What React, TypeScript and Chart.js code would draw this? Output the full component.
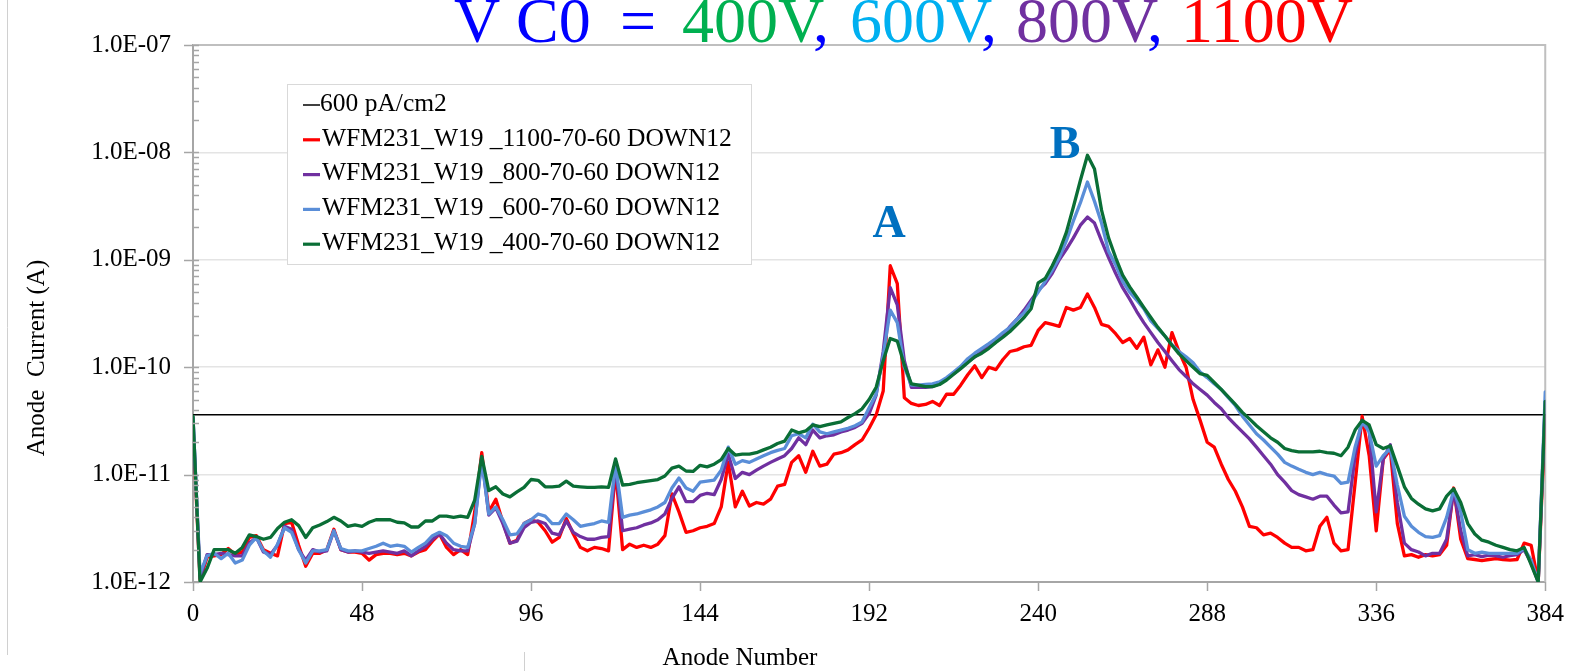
import { useEffect, useRef } from "react";
import { Chart, registerables } from "chart.js";

Chart.register(...registerables);

const SERIF = "'Liberation Serif', 'Times New Roman', serif";

// Anode numbers sampled every second anode, 0..384
const ANODES: number[] = Array.from({ length: 193 }, (_, i) => i * 2);
const X_TICKS = [0, 48, 96, 144, 192, 240, 288, 336, 384];
const Y_TICK_LABELS = ["1.0E-12", "1.0E-11", "1.0E-10", "1.0E-09", "1.0E-08", "1.0E-07"];
const Y_MIN = 1e-12;
const Y_MAX = 1e-7;

// 600 pA/cm2 reference level (A)
const REFERENCE_LEVEL = 3.6e-11;

// Anode current (A), one value per sampled anode
const CURRENT_1100V = [
  2.8e-11, 1.05e-12, 1.7e-12, 1.75e-12, 1.8e-12, 2.05e-12, 1.8e-12, 1.9e-12, 2.6e-12, 2.7e-12,
  2.0e-12, 1.85e-12, 1.75e-12, 3.5e-12, 3.6e-12, 2.2e-12, 1.4e-12, 1.85e-12, 1.85e-12, 2.0e-12,
  3.1e-12, 2.0e-12, 1.9e-12, 1.9e-12, 1.85e-12, 1.6e-12, 1.8e-12, 1.85e-12, 1.85e-12, 1.8e-12,
  1.85e-12, 1.75e-12, 1.9e-12, 2.0e-12, 2.4e-12, 2.8e-12, 2.1e-12, 1.8e-12, 2.0e-12, 1.8e-12,
  4.5e-12, 1.6e-11, 4.5e-12, 5.9e-12, 3.6e-12, 2.3e-12, 2.45e-12, 3.5e-12, 3.8e-12, 3.6e-12,
  3.0e-12, 2.35e-12, 2.6e-12, 3.9e-12, 2.8e-12, 2.1e-12, 1.95e-12, 2.1e-12, 2.05e-12, 1.95e-12,
  1.1e-11, 2.0e-12, 2.25e-12, 2.1e-12, 2.2e-12, 2.1e-12, 2.25e-12, 2.7e-12, 6.6e-12, 4.5e-12,
  2.9e-12, 3.0e-12, 3.2e-12, 3.3e-12, 3.5e-12, 5.0e-12, 1.3e-11, 5.0e-12, 7.0e-12, 5.1e-12,
  5.5e-12, 5.3e-12, 5.9e-12, 7.8e-12, 8.1e-12, 1.3e-11, 1.5e-11, 1.05e-11, 1.65e-11, 1.2e-11,
  1.25e-11, 1.55e-11, 1.6e-11, 1.7e-11, 1.9e-11, 2.1e-11, 2.7e-11, 3.6e-11, 6.0e-11, 8.8e-10,
  6.0e-10, 5.2e-11, 4.6e-11, 4.4e-11, 4.5e-11, 4.8e-11, 4.4e-11, 5.6e-11, 5.6e-11, 6.8e-11,
  8.5e-11, 1.03e-10, 8.0e-11, 1.0e-10, 9.5e-11, 1.18e-10, 1.4e-10, 1.45e-10, 1.55e-10, 1.6e-10,
  2.2e-10, 2.6e-10, 2.5e-10, 2.4e-10, 3.6e-10, 3.4e-10, 3.6e-10, 4.8e-10, 3.6e-10, 2.5e-10,
  2.4e-10, 2.05e-10, 1.7e-10, 1.85e-10, 1.5e-10, 1.9e-10, 1.05e-10, 1.45e-10, 1.0e-10, 2.1e-10,
  1.4e-10, 1.0e-10, 5.0e-11, 3.2e-11, 2.0e-11, 1.8e-11, 1.25e-11, 9.0e-12, 7.0e-12, 5.0e-12,
  3.3e-12, 3.2e-12, 2.75e-12, 2.85e-12, 2.6e-12, 2.3e-12, 2.1e-12, 2.1e-12, 1.95e-12, 2.0e-12,
  3.3e-12, 4.0e-12, 2.3e-12, 1.95e-12, 2.0e-12, 8.3e-12, 3.5e-11, 1.5e-11, 3.0e-12, 1.4e-11,
  1.7e-11, 3.5e-12, 1.75e-12, 1.8e-12, 1.7e-12, 1.8e-12, 1.75e-12, 1.8e-12, 2.2e-12, 7.5e-12,
  2.5e-12, 1.65e-12, 1.62e-12, 1.58e-12, 1.62e-12, 1.65e-12, 1.62e-12, 1.6e-12, 1.62e-12, 2.3e-12,
  2.2e-12, 1.0e-12, 3.5e-11,
];

const CURRENT_800V = [
  3.4e-11, 1.1e-12, 1.8e-12, 1.8e-12, 1.85e-12, 1.8e-12, 1.75e-12, 1.75e-12, 2.3e-12, 2.6e-12,
  1.9e-12, 1.8e-12, 2.2e-12, 3.3e-12, 3.1e-12, 2.0e-12, 1.6e-12, 2.0e-12, 1.9e-12, 1.95e-12,
  3.0e-12, 2.0e-12, 1.9e-12, 1.95e-12, 1.9e-12, 1.85e-12, 1.9e-12, 1.95e-12, 1.9e-12, 1.85e-12,
  1.95e-12, 1.75e-12, 1.95e-12, 2.15e-12, 2.5e-12, 2.8e-12, 2.3e-12, 2.0e-12, 1.95e-12, 1.95e-12,
  3.5e-12, 1.45e-11, 4.2e-12, 4.9e-12, 3.5e-12, 2.3e-12, 2.4e-12, 3.2e-12, 3.6e-12, 3.7e-12,
  3.5e-12, 2.85e-12, 2.75e-12, 3.7e-12, 2.9e-12, 2.65e-12, 2.5e-12, 2.5e-12, 2.6e-12, 2.65e-12,
  1.2e-11, 3.0e-12, 3.1e-12, 3.2e-12, 3.4e-12, 3.55e-12, 3.8e-12, 4.3e-12, 6.0e-12, 7.7e-12,
  5.6e-12, 5.6e-12, 6.4e-12, 6.7e-12, 6.5e-12, 9.0e-12, 1.55e-11, 9.2e-12, 1.05e-11, 1.0e-11,
  1.1e-11, 1.2e-11, 1.3e-11, 1.4e-11, 1.5e-11, 1.75e-11, 2.2e-11, 1.9e-11, 2.6e-11, 2.2e-11,
  2.3e-11, 2.35e-11, 2.5e-11, 2.6e-11, 2.75e-11, 3.0e-11, 3.7e-11, 5.5e-11, 1.4e-10, 5.5e-10,
  3.8e-10, 1.15e-10, 6.5e-11, 6.5e-11, 6.5e-11, 6.6e-11, 7.0e-11, 7.8e-11, 8.7e-11, 9.8e-11,
  1.12e-10, 1.25e-10, 1.4e-10, 1.55e-10, 1.72e-10, 1.95e-10, 2.4e-10, 2.8e-10, 3.4e-10, 4.2e-10,
  5.2e-10, 6.0e-10, 7.5e-10, 1.0e-9, 1.25e-9, 1.6e-9, 2.1e-9, 2.5e-9, 2.2e-9, 1.5e-9,
  1.05e-9, 7.5e-10, 5.5e-10, 4.3e-10, 3.3e-10, 2.6e-10, 2.1e-10, 1.7e-10, 1.4e-10, 1.15e-10,
  9.5e-11, 8.2e-11, 7.0e-11, 6.2e-11, 5.5e-11, 4.7e-11, 4.1e-11, 3.4e-11, 2.9e-11, 2.5e-11,
  2.15e-11, 1.8e-11, 1.5e-11, 1.25e-11, 1.0e-11, 8.5e-12, 7.1e-12, 6.5e-12, 6.2e-12, 5.9e-12,
  6.3e-12, 6.3e-12, 5.2e-12, 4.4e-12, 4.5e-12, 1.5e-11, 3.2e-11, 2.6e-11, 4.5e-12, 1.4e-11,
  1.9e-11, 5.5e-12, 2.3e-12, 2.0e-12, 1.9e-12, 1.75e-12, 1.85e-12, 1.85e-12, 2.5e-12, 7.2e-12,
  3.0e-12, 1.75e-12, 1.8e-12, 1.72e-12, 1.78e-12, 1.75e-12, 1.7e-12, 1.76e-12, 1.8e-12, 2.0e-12,
  1.5e-12, 1.0e-12, 4.8e-11,
];

const CURRENT_600V = [
  3.4e-11, 1.2e-12, 1.75e-12, 1.85e-12, 1.65e-12, 1.85e-12, 1.5e-12, 1.6e-12, 2.2e-12, 2.6e-12,
  1.95e-12, 1.7e-12, 2.25e-12, 3.2e-12, 2.9e-12, 2.0e-12, 1.5e-12, 1.95e-12, 1.95e-12, 2.0e-12,
  3.0e-12, 2.05e-12, 1.95e-12, 1.95e-12, 1.95e-12, 2.05e-12, 2.15e-12, 2.3e-12, 2.15e-12, 2.2e-12,
  2.15e-12, 1.9e-12, 2.1e-12, 2.3e-12, 2.7e-12, 2.9e-12, 2.7e-12, 2.3e-12, 2.15e-12, 2.1e-12,
  3.5e-12, 1.35e-11, 4.3e-12, 5.0e-12, 3.8e-12, 2.75e-12, 2.8e-12, 3.5e-12, 3.8e-12, 4.3e-12,
  4.1e-12, 3.5e-12, 3.5e-12, 4.3e-12, 3.8e-12, 3.3e-12, 3.4e-12, 3.5e-12, 3.7e-12, 3.6e-12,
  1.25e-11, 4.0e-12, 4.2e-12, 4.3e-12, 4.5e-12, 4.7e-12, 5.0e-12, 5.5e-12, 7.5e-12, 9.3e-12,
  7.5e-12, 7.0e-12, 8.5e-12, 8.7e-12, 8.9e-12, 1.1e-11, 1.8e-11, 1.25e-11, 1.35e-11, 1.3e-11,
  1.4e-11, 1.5e-11, 1.6e-11, 1.68e-11, 1.75e-11, 2.3e-11, 2.4e-11, 2.2e-11, 2.95e-11, 2.5e-11,
  2.4e-11, 2.5e-11, 2.6e-11, 2.7e-11, 2.85e-11, 3.1e-11, 4.2e-11, 5.6e-11, 1.3e-10, 3.4e-10,
  2.6e-10, 1.0e-10, 6.8e-11, 6.8e-11, 6.9e-11, 7.0e-11, 7.3e-11, 8.0e-11, 9.0e-11, 1.02e-10,
  1.2e-10, 1.35e-10, 1.5e-10, 1.66e-10, 1.85e-10, 2.1e-10, 2.35e-10, 2.8e-10, 3.2e-10, 4.0e-10,
  5.0e-10, 6.3e-10, 8.0e-10, 1.05e-9, 1.5e-9, 2.3e-9, 3.4e-9, 5.3e-9, 3.5e-9, 2.2e-9,
  1.2e-9, 9.0e-10, 6.3e-10, 5.0e-10, 4.2e-10, 3.5e-10, 2.7e-10, 2.3e-10, 1.95e-10, 1.62e-10,
  1.4e-10, 1.25e-10, 1.1e-10, 9.0e-11, 8.0e-11, 7.0e-11, 6.2e-11, 5.2e-11, 4.4e-11, 3.5e-11,
  2.9e-11, 2.4e-11, 2.1e-11, 1.8e-11, 1.55e-11, 1.3e-11, 1.2e-11, 1.12e-11, 1.05e-11, 1.0e-11,
  1.05e-11, 1.0e-11, 9.7e-12, 8.3e-12, 8.5e-12, 1.8e-11, 3.1e-11, 2.5e-11, 1.2e-11, 1.5e-11,
  1.75e-11, 8.0e-12, 4.1e-12, 3.3e-12, 2.9e-12, 2.65e-12, 2.6e-12, 2.7e-12, 4.0e-12, 7.2e-12,
  4.5e-12, 2.0e-12, 1.85e-12, 1.9e-12, 1.85e-12, 1.85e-12, 1.85e-12, 1.85e-12, 1.85e-12, 2.05e-12,
  1.6e-12, 1.0e-12, 5.9e-11,
];

const CURRENT_400V = [
  3.5e-11, 1.0e-12, 1.34e-12, 2.0e-12, 2.0e-12, 2.0e-12, 1.85e-12, 2.1e-12, 2.75e-12, 2.65e-12,
  2.5e-12, 2.6e-12, 3.15e-12, 3.6e-12, 3.8e-12, 3.35e-12, 2.6e-12, 3.2e-12, 3.4e-12, 3.65e-12,
  4.0e-12, 3.7e-12, 3.3e-12, 3.4e-12, 3.3e-12, 3.6e-12, 3.8e-12, 3.8e-12, 3.8e-12, 3.6e-12,
  3.55e-12, 3.25e-12, 3.25e-12, 3.7e-12, 3.7e-12, 4.1e-12, 4.1e-12, 4.0e-12, 4.1e-12, 4.0e-12,
  5.8e-12, 1.48e-11, 7.1e-12, 7.7e-12, 6.6e-12, 6.2e-12, 6.9e-12, 7.6e-12, 9.0e-12, 8.85e-12,
  7.7e-12, 7.7e-12, 7.8e-12, 8.7e-12, 7.8e-12, 7.7e-12, 7.6e-12, 7.6e-12, 7.7e-12, 7.6e-12,
  1.4e-11, 8.0e-12, 8.1e-12, 8.4e-12, 8.6e-12, 8.8e-12, 9.0e-12, 9.7e-12, 1.15e-11, 1.2e-11,
  1.08e-11, 1.07e-11, 1.22e-11, 1.18e-11, 1.25e-11, 1.38e-11, 1.75e-11, 1.52e-11, 1.55e-11, 1.55e-11,
  1.6e-11, 1.7e-11, 1.8e-11, 1.95e-11, 2.05e-11, 2.6e-11, 2.45e-11, 2.55e-11, 2.9e-11, 2.8e-11,
  2.9e-11, 3.0e-11, 3.1e-11, 3.4e-11, 3.7e-11, 4.1e-11, 5.0e-11, 6.5e-11, 1.15e-10, 1.85e-10,
  1.75e-10, 1.05e-10, 7.0e-11, 6.8e-11, 6.6e-11, 6.6e-11, 6.9e-11, 7.6e-11, 8.6e-11, 9.7e-11,
  1.1e-10, 1.25e-10, 1.35e-10, 1.5e-10, 1.7e-10, 1.9e-10, 2.15e-10, 2.5e-10, 2.9e-10, 3.5e-10,
  6.1e-10, 6.7e-10, 8.8e-10, 1.2e-9, 1.8e-9, 3.1e-9, 5.5e-9, 9.4e-9, 7.0e-9, 2.9e-9,
  1.6e-9, 1.05e-9, 7.2e-10, 5.6e-10, 4.5e-10, 3.6e-10, 2.9e-10, 2.35e-10, 1.95e-10, 1.6e-10,
  1.33e-10, 1.15e-10, 1.0e-10, 8.7e-11, 8.4e-11, 7.2e-11, 6.2e-11, 5.3e-11, 4.5e-11, 3.8e-11,
  3.3e-11, 2.85e-11, 2.5e-11, 2.2e-11, 2.0e-11, 1.75e-11, 1.67e-11, 1.63e-11, 1.63e-11, 1.63e-11,
  1.65e-11, 1.6e-11, 1.58e-11, 1.5e-11, 1.8e-11, 2.6e-11, 3.2e-11, 2.9e-11, 1.9e-11, 1.75e-11,
  1.85e-11, 1.2e-11, 7.7e-12, 6.0e-12, 5.3e-12, 4.8e-12, 4.6e-12, 4.8e-12, 6.3e-12, 7.4e-12,
  5.5e-12, 3.5e-12, 2.8e-12, 2.45e-12, 2.35e-12, 2.2e-12, 2.1e-12, 2.0e-12, 1.95e-12, 2.1e-12,
  1.45e-12, 1.0e-12, 4.8e-11,
];

const REFERENCE_LABEL = "600 pA/cm2";
const SERIES = [
  { label: "WFM231_W19 _1100-70-60 DOWN12", values: CURRENT_1100V, color: "#FF0000" },
  { label: "WFM231_W19 _800-70-60 DOWN12", values: CURRENT_800V, color: "#7030A0" },
  { label: "WFM231_W19 _600-70-60 DOWN12", values: CURRENT_600V, color: "#5A8ED8" },
  { label: "WFM231_W19 _400-70-60 DOWN12", values: CURRENT_400V, color: "#0A6E36" },
];

const TITLE_PARTS = [
  { text: "V", color: "#0000FF", x: 454 },
  { text: "C0", color: "#0000FF", x: 516 },
  { text: "=", color: "#0000FF", x: 620 },
  { text: "400V", color: "#00B050", x: 682 },
  { text: ",", color: "#0000FF", x: 813 },
  { text: "600V", color: "#00B0F0", x: 850 },
  { text: ",", color: "#0000FF", x: 981 },
  { text: "800V", color: "#7030A0", x: 1016 },
  { text: ",", color: "#0000FF", x: 1147 },
  { text: "1100V", color: "#FF0000", x: 1181 },
];

const PEAK_LABELS = [
  { text: "A", x: 889, y: 237 },
  { text: "B", x: 1065, y: 158 },
];

const isDecade = (v: number) => {
  const l = Math.log10(v);
  return Math.abs(l - Math.round(l)) < 1e-6;
};

const overlayPlugin = {
  id: "overlay",
  beforeDatasetsDraw(chart: any) {
    const { ctx, chartArea: ca } = chart;
    ctx.save();
    ctx.strokeStyle = "#bfbfbf";
    ctx.lineWidth = 2;
    ctx.beginPath();
    ctx.moveTo(ca.left, ca.top);
    ctx.lineTo(ca.right, ca.top);
    ctx.lineTo(ca.right, ca.bottom);
    ctx.stroke();
    ctx.restore();
  },
  afterDraw(chart: any) {
    const { ctx, chartArea: ca } = chart;
    const xs = chart.scales.x;
    const ys = chart.scales.y;
    ctx.save();

    // outer frame pieces
    ctx.strokeStyle = "#d0d0d0";
    ctx.lineWidth = 1;
    ctx.beginPath();
    ctx.moveTo(7.5, 0);
    ctx.lineTo(7.5, 655);
    ctx.moveTo(524.5, 652);
    ctx.lineTo(524.5, 671);
    ctx.stroke();

    // y axis tick marks (major outside, minor inside)
    ctx.strokeStyle = "#a6a6a6";
    ctx.lineWidth = 1.5;
    ctx.beginPath();
    for (let e = -12; e <= -7; e++) {
      const py = Math.round(ys.getPixelForValue(Math.pow(10, e))) + 0.5;
      ctx.moveTo(ca.left - 9, py);
      ctx.lineTo(ca.left + 6, py);
      if (e < -7) {
        for (let m = 2; m <= 9; m++) {
          const pm = Math.round(ys.getPixelForValue(m * Math.pow(10, e))) + 0.5;
          ctx.moveTo(ca.left, pm);
          ctx.lineTo(ca.left + 6, pm);
        }
      }
    }
    // x axis tick marks
    for (const v of X_TICKS) {
      const px = Math.round(xs.getPixelForValue(v)) + 0.5;
      ctx.moveTo(px, ca.bottom);
      ctx.lineTo(px, ca.bottom + 9);
    }
    ctx.stroke();

    // axis titles
    ctx.fillStyle = "#000";
    ctx.font = `25px ${SERIF}`;
    ctx.textAlign = "center";
    ctx.textBaseline = "middle";
    ctx.fillText("Anode Number", 740, 658);
    ctx.save();
    ctx.translate(37, 358);
    ctx.rotate(-Math.PI / 2);
    ctx.fillText("Anode  Current (A)", 0, 0);
    ctx.restore();

    // legend
    const lx = 287.5, ly = 84.5, lw = 464, lh = 180;
    ctx.fillStyle = "#fff";
    ctx.fillRect(lx, ly, lw, lh);
    ctx.strokeStyle = "#d9d9d9";
    ctx.lineWidth = 1;
    ctx.strokeRect(lx, ly, lw, lh);
    const rows = [{ label: REFERENCE_LABEL, color: "#000", width: 1.5 }].concat(
      SERIES.map((s) => ({ label: s.label, color: s.color, width: 3.2 }))
    );
    ctx.font = `25.5px ${SERIF}`;
    ctx.textAlign = "left";
    ctx.textBaseline = "middle";
    rows.forEach((r, i) => {
      const cy = 104 + i * 34.8;
      ctx.strokeStyle = r.color;
      ctx.lineWidth = r.width;
      ctx.beginPath();
      ctx.moveTo(303, cy + 1);
      ctx.lineTo(320, cy + 1);
      ctx.stroke();
      ctx.fillStyle = "#000";
      ctx.fillText(r.label, i === 0 ? 320 : 322, cy);
    });

    // peak labels
    ctx.fillStyle = "#0070C0";
    ctx.font = `bold 46px ${SERIF}`;
    ctx.textAlign = "center";
    ctx.textBaseline = "alphabetic";
    for (const p of PEAK_LABELS) ctx.fillText(p.text, p.x, p.y);

    // title
    ctx.font = `64px ${SERIF}`;
    ctx.textAlign = "left";
    for (const t of TITLE_PARTS) {
      ctx.fillStyle = t.color;
      ctx.fillText(t.text, t.x, 42);
    }
    ctx.restore();
  },
};

export default function App() {
  const canvasRef = useRef<HTMLCanvasElement | null>(null);

  useEffect(() => {
    const canvas = canvasRef.current;
    if (!canvas) return;

    const datasets: any[] = [
      {
        label: REFERENCE_LABEL,
        data: [
          { x: 0, y: REFERENCE_LEVEL },
          { x: 384, y: REFERENCE_LEVEL },
        ],
        borderColor: "#000",
        borderWidth: 1.5,
        order: 10,
      },
      ...SERIES.map((s, i) => ({
        label: s.label,
        data: ANODES.map((a, k) => ({ x: a, y: s.values[k] })),
        borderColor: s.color,
        borderWidth: 3.3,
        order: 5 - i,
      })),
    ];

    const chart = new Chart(canvas, {
      type: "line",
      data: { datasets },
      options: {
        animation: false,
        responsive: false,
        devicePixelRatio: 1,
        events: [],
        layout: { padding: { left: 0, top: 45, right: 22, bottom: 0 } },
        elements: {
          point: { radius: 0 },
          line: { tension: 0, borderJoinStyle: "round", borderCapStyle: "round" },
        },
        plugins: {
          legend: { display: false },
          tooltip: { enabled: false },
          title: { display: false },
        },
        scales: {
          x: {
            type: "linear",
            min: 0,
            max: 384,
            afterFit: (s: any) => {
              s.height = 89;
            },
            afterBuildTicks: (s: any) => {
              s.ticks = X_TICKS.map((v) => ({ value: v }));
            },
            ticks: {
              font: { family: SERIF, size: 25 },
              color: "#000",
              padding: 17,
              maxRotation: 0,
              autoSkip: false,
            },
            grid: { display: false, drawTicks: false },
            border: { display: true, color: "#a6a6a6", width: 2 },
          },
          y: {
            type: "logarithmic",
            min: Y_MIN,
            max: Y_MAX,
            afterFit: (s: any) => {
              s.width = 193;
            },
            ticks: {
              font: { family: SERIF, size: 25 },
              color: "#000",
              padding: 22,
              autoSkip: false,
              callback: (v: any) => {
                const n = Number(v);
                if (!isDecade(n)) return "";
                return Y_TICK_LABELS[Math.round(Math.log10(n)) + 12];
              },
            },
            grid: {
              drawTicks: false,
              lineWidth: 1.5,
              color: (c: any) =>
                c.tick && isDecade(c.tick.value) ? "#e4e4e4" : "rgba(0,0,0,0)",
            },
            border: { display: true, color: "#a6a6a6", width: 2 },
          },
        },
      },
      plugins: [overlayPlugin],
    });

    return () => chart.destroy();
  }, []);

  return (
    <div style={{ position: "absolute", left: 0, top: 0, width: 1581, height: 671, background: "#fff" }}>
      <canvas ref={canvasRef} width={1581} height={671} style={{ display: "block" }} />
    </div>
  );
}
